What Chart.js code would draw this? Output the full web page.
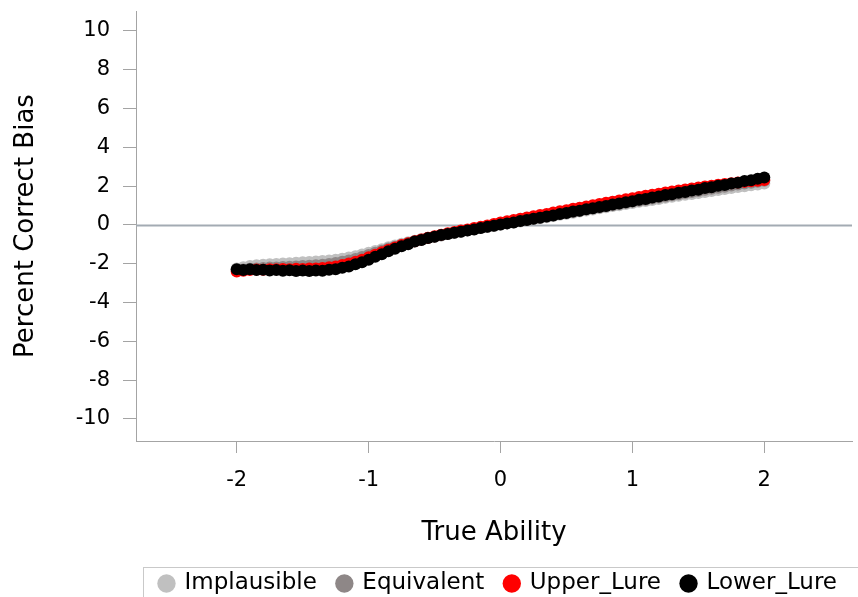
<!DOCTYPE html>
<html>
<head>
<meta charset="utf-8">
<title>Percent Correct Bias by True Ability</title>
<script src="https://cdn.jsdelivr.net/npm/chart.js@4/dist/chart.umd.min.js"></script>
<style>
  html, body { margin: 0; padding: 0; background: #fff; }
  #chart { display: block; }
</style>
</head>
<body>
<canvas id="chart" width="858" height="597"></canvas>
<script>
// true ability grid (shared by all four conditions)
const ability = [
  -2.00, -1.95, -1.90, -1.85, -1.80, -1.75, -1.70, -1.65, -1.60, -1.55,
  -1.50, -1.45, -1.40, -1.35, -1.30, -1.25, -1.20, -1.15, -1.10, -1.05,
  -1.00, -0.95, -0.90, -0.85, -0.80, -0.75, -0.70, -0.65, -0.60, -0.55,
  -0.50, -0.45, -0.40, -0.35, -0.30, -0.25, -0.20, -0.15, -0.10, -0.05,
   0.00,  0.05,  0.10,  0.15,  0.20,  0.25,  0.30,  0.35,  0.40,  0.45,
   0.50,  0.55,  0.60,  0.65,  0.70,  0.75,  0.80,  0.85,  0.90,  0.95,
   1.00,  1.05,  1.10,  1.15,  1.20,  1.25,  1.30,  1.35,  1.40,  1.45,
   1.50,  1.55,  1.60,  1.65,  1.70,  1.75,  1.80,  1.85,  1.90,  1.95,
   2.00
];

// percent correct bias per condition
const implausible = [
  -2.24, -2.18, -2.12, -2.08, -2.05, -2.03, -2.01, -1.99, -1.97, -1.95,
  -1.93, -1.91, -1.89, -1.86, -1.83, -1.79, -1.74, -1.68, -1.61, -1.53,
  -1.44, -1.35, -1.25, -1.15, -1.06, -0.97, -0.89, -0.81, -0.73, -0.66,
  -0.59, -0.52, -0.46, -0.40, -0.34, -0.28, -0.22, -0.16, -0.11, -0.05,
   0.01,  0.07,  0.12,  0.18,  0.23,  0.29,  0.35,  0.40,  0.46,  0.52,
   0.57,  0.63,  0.69,  0.74,  0.80,  0.86,  0.91,  0.97,  1.02,  1.08,
   1.13,  1.19,  1.24,  1.29,  1.34,  1.40,  1.45,  1.50,  1.55,  1.60,
   1.65,  1.70,  1.75,  1.80,  1.85,  1.90,  1.95,  2.00,  2.04,  2.09,
   2.14
];

const equivalent = [
  -2.34, -2.30, -2.26, -2.24, -2.22, -2.20, -2.19, -2.17, -2.16, -2.14,
  -2.12, -2.10, -2.08, -2.05, -2.01, -1.96, -1.90, -1.83, -1.75, -1.65,
  -1.55, -1.44, -1.33, -1.22, -1.12, -1.02, -0.93, -0.84, -0.76, -0.68,
  -0.61, -0.54, -0.47, -0.40, -0.34, -0.27, -0.21, -0.15, -0.09, -0.03,
   0.03,  0.09,  0.15,  0.20,  0.26,  0.32,  0.38,  0.44,  0.50,  0.56,
   0.61,  0.67,  0.73,  0.79,  0.85,  0.90,  0.96,  1.02,  1.08,  1.13,
   1.19,  1.25,  1.30,  1.36,  1.42,  1.47,  1.53,  1.58,  1.64,  1.70,
   1.75,  1.81,  1.86,  1.92,  1.97,  2.03,  2.08,  2.13,  2.18,  2.23,
   2.28
];

const upperLure = [
  -2.40, -2.36, -2.33, -2.30, -2.31, -2.28, -2.29, -2.27, -2.28, -2.26,
  -2.27, -2.25, -2.24, -2.22, -2.18, -2.14, -2.07, -1.99, -1.90, -1.79,
  -1.67, -1.54, -1.41, -1.28, -1.16, -1.04, -0.94, -0.84, -0.75, -0.66,
  -0.58, -0.50, -0.43, -0.36, -0.29, -0.23, -0.16, -0.10, -0.03,  0.05,
   0.13,  0.19,  0.25,  0.32,  0.38,  0.45,  0.51,  0.57,  0.64,  0.70,
   0.76,  0.83,  0.89,  0.95,  1.02,  1.08,  1.14,  1.20,  1.26,  1.32,
   1.38,  1.44,  1.50,  1.56,  1.61,  1.67,  1.72,  1.78,  1.83,  1.88,
   1.93,  1.98,  2.02,  2.07,  2.11,  2.15,  2.19,  2.22,  2.25,  2.28,
   2.32
];

const lowerLure = [
  -2.28, -2.32, -2.29, -2.33, -2.31, -2.35, -2.33, -2.36, -2.34, -2.37,
  -2.35, -2.38, -2.35, -2.36, -2.31, -2.29, -2.21, -2.14, -2.03, -1.92,
  -1.79, -1.64, -1.51, -1.36, -1.23, -1.10, -0.99, -0.86, -0.78, -0.68,
  -0.61, -0.52, -0.47, -0.40, -0.35, -0.29, -0.23, -0.16, -0.10, -0.04,
   0.02,  0.08,  0.13,  0.20,  0.25,  0.32,  0.37,  0.44,  0.49,  0.56,
   0.61,  0.69,  0.73,  0.81,  0.86,  0.93,  0.98,  1.05,  1.10,  1.17,
   1.22,  1.30,  1.34,  1.42,  1.46,  1.54,  1.58,  1.66,  1.70,  1.78,
   1.82,  1.90,  1.94,  2.02,  2.06,  2.14,  2.18,  2.26,  2.30,  2.38,
   2.44
];

const xTicks = [-2, -1, 0, 1, 2];
const yTicks = [-10, -8, -6, -4, -2, 0, 2, 4, 6, 8, 10];

const FONT = "'DejaVu Sans', sans-serif";
const AXIS_GREY = '#a4a4a4';

function toPoints(ys) {
  return ability.map((x, i) => ({ x: x, y: ys[i] }));
}

function series(label, ys, color, order) {
  return {
    label: label,
    data: toPoints(ys),
    backgroundColor: color,
    borderColor: color,
    pointBackgroundColor: color,
    pointBorderColor: color,
    borderWidth: 0,
    pointRadius: 6,
    pointHoverRadius: 6,
    order: order
  };
}

// horizontal reference line at zero bias
const zeroLine = {
  id: 'zeroLine',
  beforeDatasetsDraw(chart) {
    const { ctx, chartArea, scales } = chart;
    const y = Math.round(scales.y.getPixelForValue(0)) + 0.5;
    ctx.save();
    ctx.strokeStyle = '#a3abb3';
    ctx.lineWidth = 2;
    ctx.beginPath();
    ctx.moveTo(chartArea.left, y);
    ctx.lineTo(chartArea.right, y);
    ctx.stroke();
    ctx.restore();
  }
};

// thin frame around the legend row
const legendFrame = {
  id: 'legendFrame',
  afterDraw(chart) {
    const lg = chart.legend;
    if (!lg || !lg.legendHitBoxes.length) return;
    const first = lg.legendHitBoxes[0];
    const midY = first.top + first.height / 2;
    const ctx = chart.ctx;
    ctx.save();
    ctx.strokeStyle = '#c9c9c9';
    ctx.lineWidth = 1;
    ctx.strokeRect(Math.round(first.left - 17) + 0.5, Math.round(midY - 17) + 0.5, 900, 80);
    ctx.restore();
  }
};

new Chart(document.getElementById('chart'), {
  type: 'scatter',
  data: {
    datasets: [
      series('Implausible', implausible, '#c0c0c0', 4),
      series('Equivalent', equivalent, '#8e8787', 3),
      series('Upper_Lure', upperLure, '#ff0000', 2),
      series('Lower_Lure', lowerLure, '#000000', 1)
    ]
  },
  options: {
    responsive: false,
    animation: false,
    events: [],
    layout: { padding: { top: 11, left: 0, right: 0, bottom: -8 } },
    plugins: {
      tooltip: { enabled: false },
      legend: {
        position: 'bottom',
        align: 'end',
        reverse: true,
        labels: {
          usePointStyle: true,
          pointStyle: 'circle',
          boxWidth: 13,
          boxHeight: 13,
          padding: 21,
          color: '#000',
          font: { family: FONT, size: 23 }
        }
      }
    },
    scales: {
      x: {
        type: 'linear',
        min: -2.7637,
        max: 2.665,
        afterFit: s => { s.height = 110; s.paddingLeft = 0; s.paddingRight = 0; },
        afterBuildTicks: s => { s.ticks = xTicks.map(v => ({ value: v })); },
        border: { display: true, color: AXIS_GREY, width: 1 },
        grid: { drawOnChartArea: false, drawTicks: true, tickLength: 12, color: AXIS_GREY },
        ticks: { color: '#000', padding: 15, font: { family: FONT, size: 21 } },
        title: {
          display: true,
          text: 'True Ability',
          color: '#000',
          padding: { top: 0, bottom: 2 },
          font: { family: FONT, size: 26 }
        }
      },
      y: {
        type: 'linear',
        min: -11.14,
        max: 11.03,
        afterFit: s => { s.width = 136; s.paddingTop = 0; s.paddingBottom = 0; },
        afterBuildTicks: s => { s.ticks = yTicks.map(v => ({ value: v })); },
        border: { display: true, color: AXIS_GREY, width: 1 },
        grid: { drawOnChartArea: false, drawTicks: true, tickLength: 13, color: AXIS_GREY },
        ticks: { color: '#000', padding: 13, font: { family: FONT, size: 21 } },
        title: {
          display: true,
          text: 'Percent Correct Bias',
          color: '#000',
          padding: { top: 11, bottom: 0 },
          font: { family: FONT, size: 26 }
        }
      }
    }
  },
  plugins: [zeroLine, legendFrame]
});
</script>
</body>
</html>
